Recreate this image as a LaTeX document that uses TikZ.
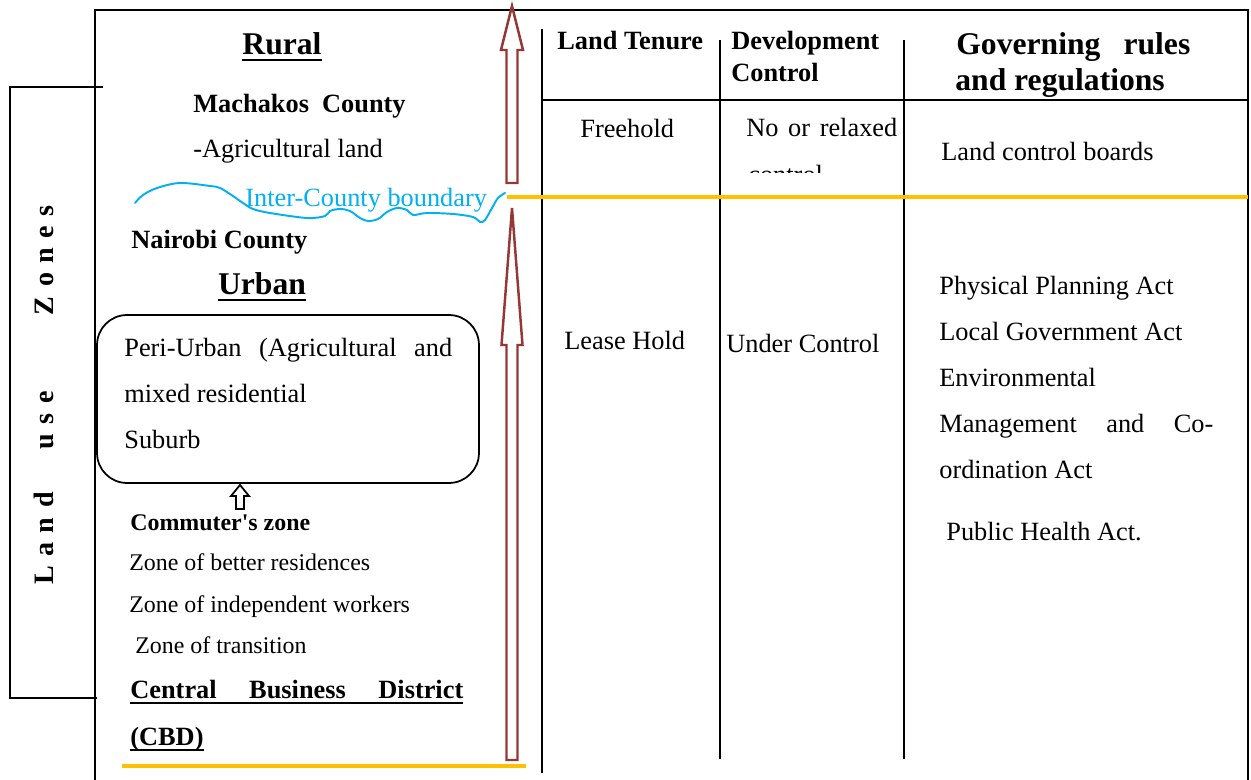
\documentclass[tikz,border=0pt]{standalone}
\usepackage{fontspec}
\setmainfont{Liberation Serif}

\definecolor{arrowred}{RGB}{149,55,53}
\definecolor{boundblue}{RGB}{0,176,240}
\definecolor{zoneorange}{RGB}{255,192,0}

% thick underline for the zone headings
\newcommand{\thickul}[1]{\setbox0=\hbox{#1}\rlap{\rule[-3.6pt]{\wd0}{1.4pt}}\box0}

\begin{document}
\begin{tikzpicture}[x=0.02cm,y=-0.02cm,
    txt/.style={anchor=base west,inner sep=0pt,font=\fontsize{15}{18}\selectfont},
    zonetxt/.style={anchor=base west,inner sep=0pt,font=\fontsize{13.6}{16}\selectfont},
    headtxt/.style={anchor=base west,inner sep=0pt,font=\fontsize{15}{18}\selectfont\bfseries},
    bigtxt/.style={inner sep=0pt,font=\fontsize{18}{20}\selectfont\bfseries},
    frameline/.style={line width=1.1pt},
    bigarrow/.style={draw=arrowred,line width=1.4pt,fill=white},
    zoneline/.style={zoneorange,line width=2.8pt}]
        \useasboundingbox (0,0) rectangle (1251,780);

        % Draw the frame and the columns
        \draw[frameline] (95,780) -- (95,10) -- (1248,10) -- (1248,780);
        \draw[frameline] (103,87) -- (10,87) -- (10,698) -- (97,698);
        \draw[frameline] (542,29) -- (542,773);
        \draw[frameline] (720,40) -- (720,759);
        \draw[frameline] (904,40) -- (904,759);
        \draw[frameline] (542,100) -- (1248,100);

        % Zone boundaries
        \draw[zoneline] (507,197) -- (1248,197);
        \draw[zoneline] (122,766) -- (526,766);

        % Side label
        \node[rotate=90,inner sep=0pt,font=\fontsize{16}{16}\selectfont\bfseries] (landuse) at (44,395)
            {\makebox[7.6cm][s]{L\hfill a\hfill n\hfill d\hspace{\stretch{4.5}}u\hfill s\hfill e\hspace{\stretch{8}}Z\hfill o\hfill n\hfill e\hfill s}};

        % Rural part
        \node[bigtxt,anchor=base] (rural) at (282,55) {\thickul{Rural}};
        \node[txt,font=\fontsize{15}{18}\selectfont\bfseries] (machakos) at (193,113) {Machakos\ \ County};
        \node[txt] (agri) at (193,158) {-Agricultural land};

        % Inter-county boundary
        \draw[boundblue,line width=1.1pt,line cap=round] plot[smooth,tension=0.55] coordinates {
            (135,203) (143,195) (157,188) (180,183) (210,186) (220,188) (233,196) (243,203)
            (253,209) (270,213) (307,218) (325,216) (330,211) (340,209) (350,211) (360,218)
            (368,221) (378,219) (387,212) (397,208) (407,210) (413,215) (427,213) (453,214)
            (473,217) (480,222) (485,220) (492,208) (498,198) (505,193)};
        \node[txt,text=boundblue] (boundary) at (245,207) {Inter-County boundary};

        % Urban part
        \node[txt,font=\fontsize{15}{18}\selectfont\bfseries] (nairobi) at (131,249) {Nairobi County};
        \node[bigtxt,anchor=base] (urban) at (262,295) {\thickul{Urban}};
        \node[draw,line width=1pt,rounded corners=0.6cm,minimum width=7.64cm,minimum height=3.36cm,inner sep=0pt] (periurban) at (288,399) {};
        \node[txt] (peri1) at (124,357) {\makebox[6.56cm][s]{Peri-Urban (Agricultural and}};
        \node[txt] (peri2) at (124,403) {mixed residential};
        \node[txt] (peri3) at (124,449) {Suburb};
        \draw[line width=1pt] (236,509) -- (236,496) -- (231,496) -- (240,485) -- (249,496) -- (244,496) -- (244,509) -- cycle;
        \node[zonetxt,font=\fontsize{13.6}{16}\selectfont\bfseries] (commuter) at (130,530) {Commuter\textquotesingle s zone};
        \node[zonetxt] (zone1) at (129,570) {Zone of better residences};
        \node[zonetxt] (zone2) at (129,612) {Zone of independent workers};
        \node[zonetxt] (zone3) at (135,653) {Zone of transition};
        \node[headtxt] (cbd1) at (130,698) {\thickul{\makebox[6.66cm][s]{Central Business District}}};
        \node[headtxt] (cbd2) at (130,745) {\thickul{(CBD)}};

        % Draw the arrows
        \draw[bigarrow] (506.5,183) -- (506.5,50) -- (501,50) -- (512,6) -- (523,50) -- (517.5,50) -- (517.5,183) -- cycle;
        \draw[bigarrow] (506.5,760) -- (506.5,345) -- (501.5,345) -- (512,208) -- (522.5,345) -- (517.5,345) -- (517.5,760) -- cycle;

        % Table headings
        \node[headtxt] (tenure) at (557,50) {Land Tenure};
        \node[headtxt] (devctl1) at (731,50) {Development};
        \node[headtxt] (devctl2) at (731,82) {Control};
        \node[bigtxt,anchor=base west] (gov1) at (956,55) {\makebox[4.68cm][s]{Governing\ \ rules}};
        \node[bigtxt,anchor=base west] (gov2) at (955,91) {and regulations};

        % Rural row
        \node[txt] (freehold) at (580,138) {Freehold};
        \node[txt] (norelax) at (746,137) {\makebox[3.02cm][s]{No or relaxed}};
        \begin{scope}
            \clip (722,100) rectangle (902,172.5);
            \node[txt] (relaxctl) at (748,184) {control};
        \end{scope}
        \node[txt] (boards) at (941,161) {Land control boards};

        % Urban row
        \node[txt] (leasehold) at (564,350) {Lease Hold};
        \node[txt] (underctl) at (726,353) {Under Control};
        \node[txt] (act1) at (939,295) {Physical Planning Act};
        \node[txt] (act2) at (939,341) {Local Government Act};
        \node[txt] (act3) at (939,387) {Environmental};
        \node[txt] (act4) at (939,433) {\makebox[5.48cm][s]{Management and Co-}};
        \node[txt] (act5) at (939,479) {ordination Act};
        \node[txt] (act6) at (946,540) {Public Health Act.};
    \end{tikzpicture}
\end{document}
